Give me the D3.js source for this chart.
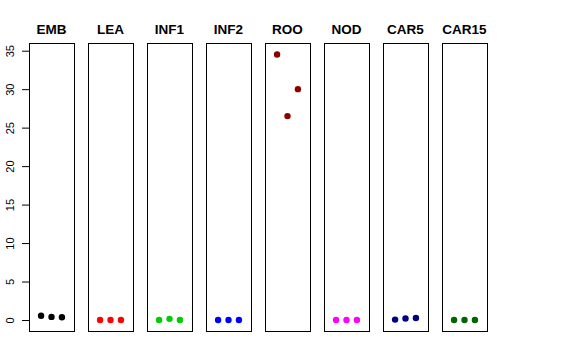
<!DOCTYPE html>
<html>
<head>
<meta charset="utf-8">
<script src="https://cdn.jsdelivr.net/npm/d3@7"></script>
<style>
  body { margin: 0; background: #fff; }
  text { font-family: "Liberation Sans", Arial, sans-serif; }
</style>
</head>
<body>
<div id="chart"></div>
<script>
// panels, one colour each, three values per panel
const tissues = ["EMB", "LEA", "INF1", "INF2", "ROO", "NOD", "CAR5", "CAR15"];
const colors = ["#000000", "#FF0000", "#00CD00", "#0000FF", "#8B0000", "#FF00FF", "#000080", "#006400"];
const values = [
  [0.55, 0.4, 0.35],
  [0, 0, 0],
  [0, 0.15, 0],
  [0, 0, 0],
  [34.5, 26.5, 30],
  [0, 0, 0],
  [0.05, 0.2, 0.25],
  [0, 0, 0]
];
const yTicks = [0, 5, 10, 15, 20, 25, 30, 35];

let w = 576;
let h = 360;

const svg = d3.select("#chart").
append("svg").
attr("width", w).
attr("height", h);

//one band per panel
const xBand = d3.scaleBand().
domain(tissues).
range([29, 487]).
paddingInner(14 / 59).
paddingOuter(0);

const yScale = d3.scaleLinear().
domain([-1.43, 36.0]).
range([331, 43]);

//x inside a panel, points sit at 1,2,3
const xInner = d3.scaleLinear().
domain([-0.16, 4.16]).
range([0, xBand.bandwidth()]);

//y axis on the left of the first panel
let yAxis = d3.axisLeft(yScale).tickValues(yTicks).tickSize(7).tickFormat(d3.format("d"));
let axisG = svg.append("g").
attr("transform", "translate(29,0)").
call(yAxis);
axisG.select(".domain").remove();
axisG.selectAll(".tick line").attr("stroke", "#000");
axisG.selectAll(".tick text").
attr("font-size", 11).
attr("fill", "#000").
attr("x", 0).
attr("dy", 0).
attr("text-anchor", "middle").
attr("transform", "translate(-19,0) rotate(-90)").
attr("y", 4);

let panels = svg.selectAll(".panel").
data(tissues).
enter().
append("g").
attr("class", "panel").
attr("transform", d => "translate(" + xBand(d) + ",0)");

panels.append("rect").
attr("x", 0.5).
attr("y", yScale(36.0) + 0.5).
attr("width", xBand.bandwidth()).
attr("height", yScale(-1.43) - yScale(36.0)).
attr("fill", "none").
attr("stroke", "#000").
attr("stroke-width", 1);

panels.append("text").
attr("x", xBand.bandwidth() / 2).
attr("y", 34).
attr("text-anchor", "middle").
attr("font-weight", "bold").
attr("font-size", 13.5).
text(d => d);

panels.each(function (d, i) {
  d3.select(this).selectAll("circle").
  data(values[i]).
  enter().
  append("circle").
  attr("cx", (v, j) => xInner(j + 1)).
  attr("cy", v => yScale(v)).
  attr("r", 3.2).
  attr("fill", colors[i]);
});
</script>
</body>
</html>
